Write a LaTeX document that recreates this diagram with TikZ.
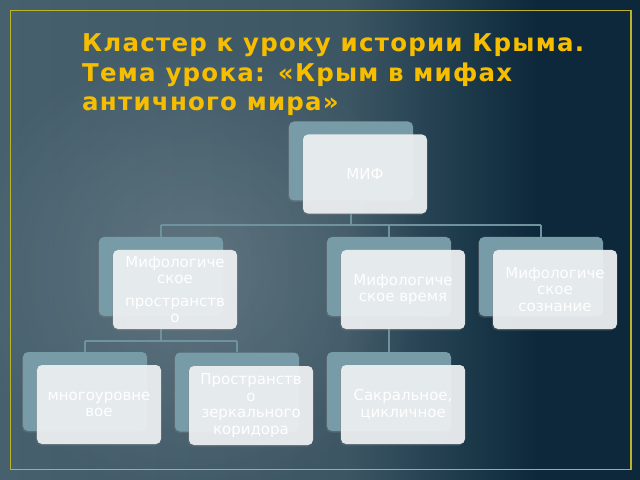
\documentclass[tikz,border=0pt]{standalone}
\usepackage{fontspec}
\setmainfont{DejaVu Sans}
\newfontfamily\titlefont[LetterSpace=5]{DejaVu Sans Bold}
\usetikzlibrary{shadows,fadings}
\definecolor{bgA}{HTML}{46606D}
\definecolor{bgB}{HTML}{3D5664}
\definecolor{bgC}{HTML}{1E3B4C}
\definecolor{bgD}{HTML}{0C283A}
\definecolor{backcol}{HTML}{789BA8}
\definecolor{frontcol}{HTML}{EEF1F3}
\definecolor{linkcol}{HTML}{6E939F}
\definecolor{titlecol}{HTML}{F7BE00}
\definecolor{framecol}{HTML}{BDB329}
\pgfdeclarehorizontalshading{bgsh}{100bp}{color(0bp)=(bgA); color(25bp)=(bgA); color(52bp)=(bgB); color(61bp)=(bgC); color(67bp)=(bgD); color(75bp)=(bgD); color(100bp)=(bgD)}
\tikzfading[name=glowfade, inner color=transparent!0, outer color=transparent!100]
\pgfdeclarelayer{bg}
\pgfdeclarelayer{lines}
\pgfsetlayers{bg,lines,main}
\tikzset{
  backbox/.style={fill=backcol, rounded corners=5bp, minimum width=124bp, minimum height=79bp, inner sep=0pt,
    drop shadow={shadow xshift=-1bp, shadow yshift=-1.5bp, opacity=0.35}},
  frontbox/.style={fill=frontcol, fill opacity=0.93, text opacity=1, text=white, rounded corners=5bp,
    minimum width=124bp, minimum height=79bp, inner sep=0pt, align=center,
    font=\fontsize{15bp}{16.5bp}\selectfont,
    drop shadow={shadow xshift=-1bp, shadow yshift=-1.5bp, opacity=0.3}},
  link/.style={draw=linkcol, line width=1.3bp},
  titletext/.style={text=titlecol, font=\titlefont\fontsize{24.5bp}{30bp}\selectfont, anchor=base west, inner sep=0pt}
}
\begin{document}
\begin{tikzpicture}[x=1bp, y=-1bp]
\useasboundingbox (0,0) rectangle (640,480);
\begin{pgfonlayer}{bg}
  \shade[shading=bgsh] (0,0) rectangle (640,480);
  \fill[white, fill opacity=0.16, path fading=glowfade] (195,270) circle (230);
  \draw[framecol, line width=1.5bp] (10.5,10.5) rectangle (631,469.5);
\end{pgfonlayer}

% title
\node[titletext] (t1) at (82,52) {Кластер к уроку истории Крыма.};
\node[titletext] (t2) at (82,82) {Тема урока: «Крым в мифах};
\node[titletext] (t3) at (82,111) {античного мира»};

% level 1
\node[backbox] (mifb) at (351,161) {};
\node[frontbox] (mif) at (365,174) {МИФ};

% level 2
\node[backbox] (l2ab) at (161,276.5) {};
\node[frontbox] (l2a) at (175,289.5) {Мифологиче\\ское\\[6bp]пространств\\о};
\node[backbox] (l2bb) at (389,276.5) {};
\node[frontbox] (l2b) at (403,289.5) {Мифологиче\\ское время};
\node[backbox] (l2cb) at (541,276.5) {};
\node[frontbox] (l2c) at (555,289.5) {Мифологиче\\ское\\сознание};

% level 3
\node[backbox] (l3ab) at (85,391.5) {};
\node[frontbox] (l3a) at (99,404.5) {многоуровне\\вое};
\node[backbox] (l3bb) at (237,392) {};
\node[frontbox] (l3b) at (251,405.5) {Пространств\\о\\зеркального\\коридора};
\node[backbox] (l3cb) at (389,391.5) {};
\node[frontbox] (l3c) at (403,404.5) {Сакральное,\\цикличное};

\coordinate (hubA) at (0,225);
\coordinate (hubB) at (0,341);
\begin{pgfonlayer}{lines}
  \draw[link] (mifb |- mif.south) -- (mifb |- hubA);
  \draw[link] (l2ab |- hubA) -- (l2cb |- hubA);
  \draw[link] (l2ab |- hubA) -- (l2ab.north);
  \draw[link] (l2bb |- hubA) -- (l2bb.north);
  \draw[link] (l2cb |- hubA) -- (l2cb.north);
  \draw[link] (l2ab |- l2a.south) -- (l2ab |- hubB);
  \draw[link] (l3ab |- hubB) -- (l3bb |- hubB);
  \draw[link] (l3ab |- hubB) -- (l3ab.north);
  \draw[link] (l3bb |- hubB) -- (l3bb.north);
  \draw[link] (l2bb |- l2b.south) -- (l3cb.north);
\end{pgfonlayer}
\end{tikzpicture}
\end{document}
